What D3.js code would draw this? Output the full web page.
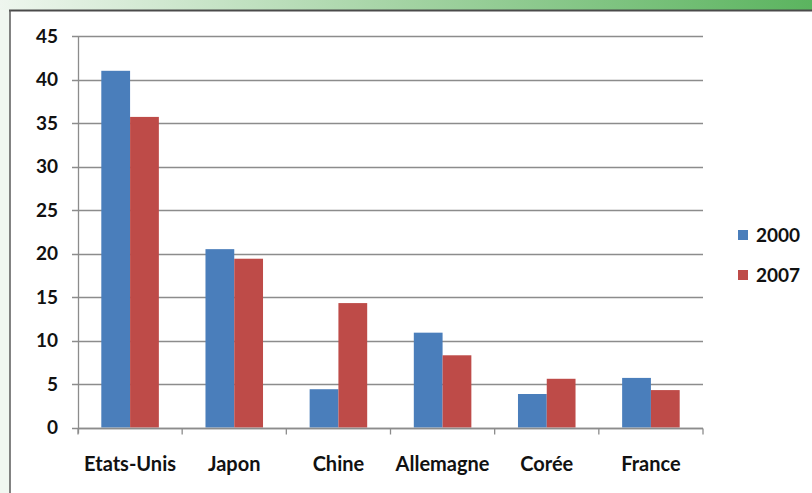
<!DOCTYPE html>
<html>
<head>
<meta charset="utf-8">
<script src="https://cdn.jsdelivr.net/npm/d3@7"></script>
<style>
  body { margin: 0; background: #fff; }
  text { font-family: Lato, "Open Sans", sans-serif; fill: #111; font-weight: bold; }
</style>
</head>
<body>
<svg id="chart"></svg>
<script>
'use strict'

var categories = ["Etats-Unis", "Japon", "Chine", "Allemagne", "Corée", "France"];
var seriesNames = ["2000", "2007"];
var values2000 = [41.0, 20.5, 4.4, 10.9, 3.85, 5.7];
var values2007 = [35.7, 19.4, 14.3, 8.3, 5.6, 4.3];
var yTicks = [0, 5, 10, 15, 20, 25, 30, 35, 40, 45];

var WIDTH = 812,
	HEIGHT = 493;

var plot = { left: 78, right: 703, top: 36, bottom: 427.5 };

var colors = ["#4a7ebb", "#be4b48"];

var svg = d3.select("#chart")
	.attr("width", WIDTH)
	.attr("height", HEIGHT)

// background frame: green band on top, pale margin on the left
var defs = svg.append("defs")
var grad = defs.append("linearGradient")
	.attr("id", "band")
	.attr("x1", "0%").attr("x2", "100%")
grad.append("stop").attr("offset", "0%").attr("stop-color", "#eef6ee")
grad.append("stop").attr("offset", "50%").attr("stop-color", "#a3d3a3")
grad.append("stop").attr("offset", "100%").attr("stop-color", "#5bb45f")

svg.append("rect")
	.attr("x", 0).attr("y", 0)
	.attr("width", WIDTH).attr("height", HEIGHT)
	.style("fill", "#f1f7f1")

svg.append("rect")
	.attr("x", 0).attr("y", 0)
	.attr("width", WIDTH).attr("height", 10)
	.style("fill", "url(#band)")

svg.append("rect")
	.attr("x", 10).attr("y", 11)
	.attr("width", WIDTH - 10).attr("height", HEIGHT - 11)
	.style("fill", "#fff")

svg.append("line")
	.attr("x1", 9).attr("x2", WIDTH)
	.attr("y1", 10.5).attr("y2", 10.5)
	.style("stroke", "#4a4a4a").style("stroke-width", 2)

svg.append("line")
	.attr("x1", 10).attr("x2", 10)
	.attr("y1", 10).attr("y2", HEIGHT)
	.style("stroke", "#5a5a5a").style("stroke-width", 1.5)

// scales
var x = d3.scaleBand()
	.domain(categories)
	.range([plot.left, plot.right])
	.paddingInner(0)
	.paddingOuter(0)

var x1 = d3.scaleBand()
	.domain(seriesNames)
	.range([0, x.bandwidth()])
	.paddingOuter(0.81)
	.paddingInner(0)

var y = d3.scaleLinear()
	.domain([0, 45])
	.range([plot.bottom, plot.top])

// gridlines
svg.append("g")
	.selectAll("line")
	.data(yTicks)
	.join("line")
	.attr("x1", plot.left - 6)
	.attr("x2", plot.right)
	.attr("y1", function(d) { return Math.round(y(d)) + 0.5 })
	.attr("y2", function(d) { return Math.round(y(d)) + 0.5 })
	.style("stroke", "#8c8c8c")
	.style("stroke-width", 1.3)

// y tick labels
svg.append("g")
	.selectAll("text")
	.data(yTicks)
	.join("text")
	.attr("x", 58)
	.attr("y", function(d) { return y(d) })
	.attr("dy", "0.35em")
	.attr("text-anchor", "end")
	.style("font-size", "19px")
	.text(function(d) { return d })

// bars
var data = categories.map(function(c, i) {
	return { cat: c, vals: [values2000[i], values2007[i]] }
})

var groups = svg.append("g")
	.selectAll("g")
	.data(data)
	.join("g")
	.attr("transform", function(d) { return "translate(" + x(d.cat) + ",0)" })

groups.selectAll("rect")
	.data(function(d) { return d.vals.map(function(v, j) { return { key: seriesNames[j], v: v, j: j } }) })
	.join("rect")
	.attr("x", function(d) { return x1(d.key) })
	.attr("width", x1.bandwidth())
	.attr("y", function(d) { return y(d.v) })
	.attr("height", function(d) { return y(0) - y(d.v) })
	.style("fill", function(d) { return colors[d.j] })

// y axis line
svg.append("line")
	.attr("x1", plot.left + 0.5).attr("x2", plot.left + 0.5)
	.attr("y1", plot.top).attr("y2", plot.bottom + 6)
	.style("stroke", "#8c8c8c").style("stroke-width", 1.3)

// x axis
var xAxis = svg.append("g")
	.attr("transform", "translate(0," + (Math.round(plot.bottom) + 0.5) + ")")

xAxis.append("line")
	.attr("x1", plot.left).attr("x2", plot.right)
	.style("stroke", "#8c8c8c").style("stroke-width", 1.3)

xAxis.selectAll(".tick")
	.data(categories.concat(["end"]))
	.join("line")
	.attr("x1", function(d, i) { return i < categories.length ? x(d) : plot.right })
	.attr("x2", function(d, i) { return i < categories.length ? x(d) : plot.right })
	.attr("y1", 0).attr("y2", 6)
	.style("stroke", "#8c8c8c").style("stroke-width", 1.3)

xAxis.selectAll("text")
	.data(categories)
	.join("text")
	.attr("x", function(d) { return x(d) + x.bandwidth() / 2 })
	.attr("y", 42)
	.attr("text-anchor", "middle")
	.style("font-size", "20px")
	.text(function(d) { return d })

// legend
var legend = svg.append("g")
	.selectAll("g")
	.data(seriesNames)
	.join("g")
	.attr("transform", function(d, i) { return "translate(738," + (230 + i * 40) + ")" })

legend.append("rect")
	.attr("width", 10).attr("height", 10)
	.style("fill", function(d, i) { return colors[i] })

legend.append("text")
	.attr("x", 18)
	.attr("y", 5)
	.attr("dy", "0.38em")
	.style("font-size", "19px")
	.text(function(d) { return d })
</script>
</body>
</html>
